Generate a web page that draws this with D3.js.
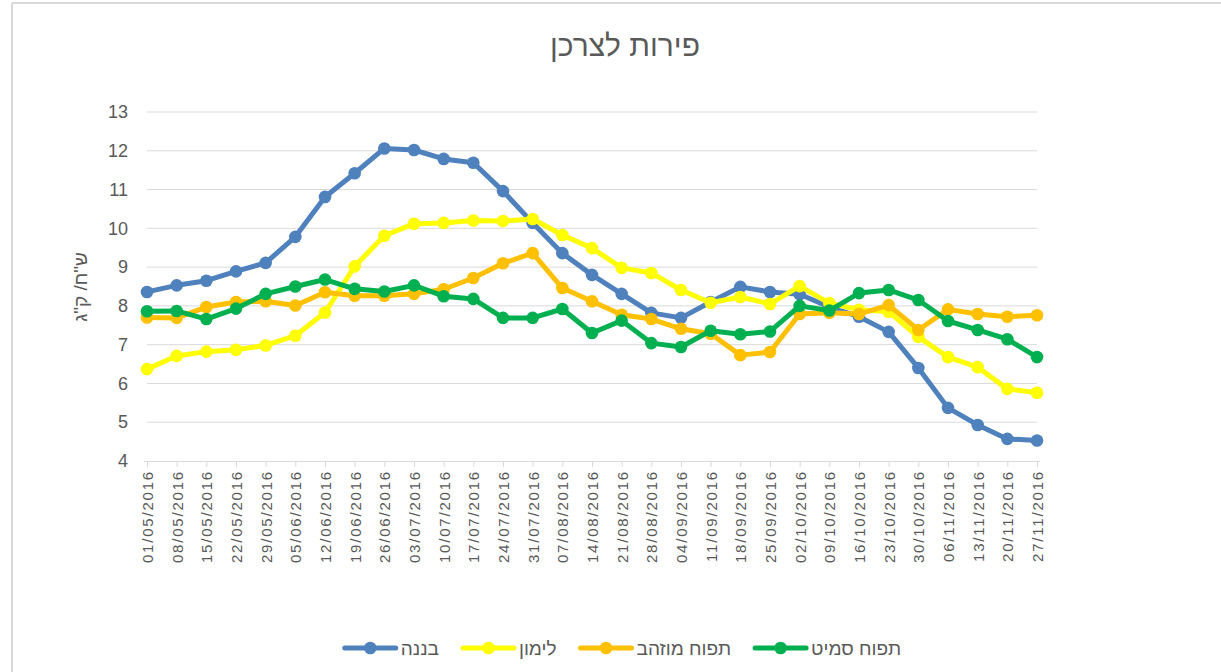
<!DOCTYPE html>
<html>
<head>
<meta charset="utf-8">
<script src="https://cdn.jsdelivr.net/npm/d3@7"></script>
<style>
  body { margin: 0; background: #fff; }
  svg text { font-family: "Liberation Sans", Arial, sans-serif; fill: #595959; }
</style>
</head>
<body>
<svg id="chart" width="1221" height="672"></svg>
<script>
// weekly dates
const dates = ["01/05/2016","08/05/2016","15/05/2016","22/05/2016","29/05/2016","05/06/2016","12/06/2016",
  "19/06/2016","26/06/2016","03/07/2016","10/07/2016","17/07/2016","24/07/2016","31/07/2016","07/08/2016",
  "14/08/2016","21/08/2016","28/08/2016","04/09/2016","11/09/2016","18/09/2016","25/09/2016","02/10/2016",
  "09/10/2016","16/10/2016","23/10/2016","30/10/2016","06/11/2016","13/11/2016","20/11/2016","27/11/2016"];

const banana = [8.36,8.53,8.65,8.89,9.11,9.78,10.81,11.42,12.06,12.02,11.79,11.69,10.96,10.14,9.36,
  8.8,8.31,7.82,7.69,8.1,8.49,8.36,8.3,7.97,7.72,7.33,6.4,5.37,4.93,4.57,4.53];
const lemon = [6.37,6.71,6.82,6.87,6.98,7.23,7.83,9.02,9.81,10.12,10.14,10.2,10.19,10.24,9.83,
  9.49,8.98,8.85,8.41,8.08,8.23,8.05,8.51,8.07,7.9,7.85,7.2,6.68,6.42,5.86,5.76];
const goldenApple = [7.7,7.69,7.97,8.1,8.12,8.01,8.35,8.26,8.26,8.31,8.43,8.72,9.1,9.36,8.46,
  8.12,7.77,7.66,7.41,7.28,6.73,6.81,7.79,7.82,7.79,8.02,7.38,7.91,7.79,7.72,7.76];
const smithApple = [7.86,7.87,7.66,7.93,8.31,8.5,8.68,8.44,8.37,8.53,8.25,8.18,7.69,7.69,7.92,
  7.3,7.62,7.04,6.94,7.36,7.27,7.34,8.0,7.88,8.33,8.41,8.15,7.61,7.38,7.14,6.68];

const yTicks = [4,5,6,7,8,9,10,11,12,13];

const series = [
  { name: "בננה", values: banana, color: "#4F81BD" },
  { name: "לימון", values: lemon, color: "#FFFF00" },
  { name: "תפוח מוזהב", values: goldenApple, color: "#FFC000" },
  { name: "תפוח סמיט", values: smithApple, color: "#00B050" }
];

const svg = d3.select("#chart");

// outer frame (top and left edges visible)
svg.append("line").attr("x1", 12).attr("x2", 1221).attr("y1", 3).attr("y2", 3)
  .attr("stroke", "#d9d9d9").attr("stroke-width", 2);
svg.append("line").attr("x1", 12).attr("x2", 12).attr("y1", 3).attr("y2", 672)
  .attr("stroke", "#d9d9d9").attr("stroke-width", 2);

const x = d3.scalePoint().domain(dates).range([147, 1037]);
const y = d3.scaleLinear().domain([4, 13]).range([461, 112]);

// gridlines
svg.append("g")
  .selectAll("line")
  .data(yTicks.filter(d => d > 4))
  .enter().append("line")
  .attr("x1", 147).attr("x2", 1037)
  .attr("y1", d => y(d)).attr("y2", d => y(d))
  .attr("stroke", "#d9d9d9").attr("stroke-width", 1);

// y axis labels
const yAxis = svg.append("g")
  .attr("transform", "translate(147,0)")
  .call(d3.axisLeft(y).tickValues(yTicks).tickSize(0).tickPadding(19));
yAxis.select(".domain").remove();
yAxis.selectAll("text").style("font-size", "18px").attr("fill", "#595959");

// x axis
const xAxis = svg.append("g")
  .attr("transform", "translate(0,461)")
  .call(d3.axisBottom(x).tickSize(6).tickSizeOuter(0));
xAxis.select(".domain").attr("stroke", "#d9d9d9").attr("d", "M144,0.5H1040");
xAxis.selectAll(".tick line").attr("stroke", "#d9d9d9");
xAxis.selectAll(".tick text")
  .attr("transform", "translate(0,9) rotate(-90)")
  .attr("x", 0).attr("y", 0).attr("dy", "0.36em")
  .style("text-anchor", "end")
  .style("font-size", "15px")
  .style("letter-spacing", "1.8px")
  .attr("fill", "#595959");

// lines + markers
const line = d3.line().x((d, i) => x(dates[i])).y(d => y(d));

series.forEach(s => {
  const g = svg.append("g");
  g.append("path")
    .datum(s.values)
    .attr("d", line)
    .attr("fill", "none")
    .attr("stroke", s.color)
    .attr("stroke-width", 5)
    .attr("stroke-linejoin", "round")
    .attr("stroke-linecap", "round");
  g.selectAll("circle")
    .data(s.values)
    .enter().append("circle")
    .attr("cx", (d, i) => x(dates[i]))
    .attr("cy", d => y(d))
    .attr("r", 6.3)
    .attr("fill", s.color);
});

// title
svg.append("text")
  .attr("x", 625).attr("y", 56)
  .attr("text-anchor", "middle")
  .style("font-size", "30px")
  .text("פירות לצרכן");

// y axis label
svg.append("text")
  .attr("transform", "translate(87,287) rotate(-90)")
  .attr("text-anchor", "middle")
  .style("font-size", "19px")
  .text("ש\"ח/ ק\"ג");

// legend
const legend = svg.append("g");
let lx = 0;
series.forEach(s => {
  const item = legend.append("g").attr("transform", `translate(${lx},0)`);
  item.append("line").attr("x1", 0).attr("x2", 51).attr("y1", 0).attr("y2", 0)
    .attr("stroke", s.color).attr("stroke-width", 5).attr("stroke-linecap", "round");
  item.append("circle").attr("cx", 25.5).attr("cy", 0).attr("r", 6.3).attr("fill", s.color);
  const t = item.append("text").attr("x", 56).attr("y", 7)
    .attr("text-anchor", "start")
    .style("font-size", "19px")
    .text(s.name);
  lx += 56 + t.node().getComputedTextLength() + 24;
});
const legendWidth = lx - 24;
legend.attr("transform", `translate(${623 - legendWidth / 2},648)`);
</script>
</body>
</html>
